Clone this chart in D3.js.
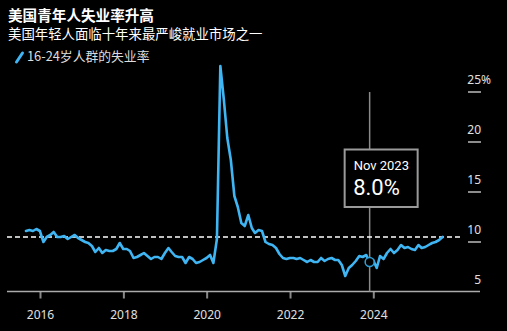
<!DOCTYPE html>
<html><head><meta charset="utf-8">
<script src="https://cdn.jsdelivr.net/npm/d3@7"></script>
<style>
html,body{margin:0;padding:0;background:#000;}
svg{display:block;}
</style></head>
<body>
<svg id="chart" width="507" height="331"></svg>
<script>
// ---- data ----
const title = "美国青年人失业率升高";
const subtitle = "美国年轻人面临十年来最严峻就业市场之一";
const seriesName = "16-24岁人群的失业率";
const firstMonth = [2015, 8]; // Aug 2015, monthly data
const rate2015 = [11.1, 11.2, 11.1, 11.3, 11.1];
const rate2016 = [10.0, 10.5, 10.7, 11.0, 10.5, 10.5, 10.6, 10.3, 10.5, 10.7, 10.4, 10.2];
const rate2017 = [10.0, 9.9, 9.6, 9.0, 9.4, 8.9, 9.2, 9.1, 9.1, 9.3, 9.9, 9.3];
const rate2018 = [9.3, 9.1, 8.4, 8.5, 8.7, 8.9, 8.6, 8.3, 8.5, 8.5, 8.3, 8.9];
const rate2019 = [9.4, 9.0, 8.6, 8.5, 8.5, 7.9, 8.5, 8.3, 7.9, 8.0, 8.2, 8.4];
const rate2020 = [8.7, 7.9, 10.3, 27.6, 24.2, 20.4, 18.2, 14.6, 13.5, 11.9, 11.6, 12.7];
const rate2021 = [11.4, 10.9, 11.2, 11.1, 10.0, 9.8, 9.7, 9.4, 8.8, 8.4, 8.3, 8.4];
const rate2022 = [8.4, 8.3, 8.4, 8.2, 8.0, 8.2, 8.0, 8.0, 8.4, 8.1, 8.3, 8.4];
const rate2023 = [8.2, 8.2, 7.7, 6.6, 7.4, 7.7, 8.1, 8.6, 8.5, 8.7, 8.0, 8.2];
const rate2024 = [7.4, 8.6, 8.3, 8.9, 9.3, 8.9, 9.2, 9.7, 9.4, 9.5, 9.3, 9.2];
const rate2025 = [9.7, 9.4, 9.5, 9.7, 9.9, 10.0, 10.2, 10.5];
const xTickYears = [2016, 2018, 2020, 2022, 2024];
const yTicks = [5, 10, 15, 20, 25];
const annotation = { year: 2023, month: 11, label: "Nov 2023" };
const referenceValue = 10.5;

// ---- build series ----
const allRates = [].concat(rate2015, rate2016, rate2017, rate2018, rate2019, rate2020,
  rate2021, rate2022, rate2023, rate2024, rate2025);
// monthly observation placed at end of its month
const data = allRates.map((v, i) => {
  const m = firstMonth[1] - 1 + i;
  return { date: new Date(firstMonth[0], m + 1, 0), value: v };
});

const svg = d3.select("#chart");
const W = 507, H = 331;
svg.append("rect").attr("width", W).attr("height", H).attr("fill", "#000");

const x = d3.scaleTime()
  .domain([new Date(2016, 0, 1), new Date(2024, 0, 1)])
  .range([40, 373.3]);
const y = d3.scaleLinear().domain([5, 25]).range([292, 92]);

const lineColor = "#3fb5f3";
const font = "'Noto Sans', 'Noto Sans CJK SC', sans-serif";
const cjk = "'Noto Sans CJK SC', 'Noto Sans', sans-serif";
const annFont = "Roboto, 'Noto Sans', sans-serif";

// titles
svg.append("text").attr("x", 8).attr("y", 21)
  .attr("fill", "#fff").attr("font-family", cjk).attr("font-weight", "bold")
  .attr("font-size", 14.6).text(title);
svg.append("text").attr("x", 8).attr("y", 39)
  .attr("fill", "#fff").attr("font-family", cjk)
  .attr("font-size", 13.4).text(subtitle);
// legend
svg.append("line").attr("x1", 16.5).attr("y1", 62).attr("x2", 22.5).attr("y2", 53)
  .attr("stroke", lineColor).attr("stroke-width", 3).attr("stroke-linecap", "round");
svg.append("text").attr("x", 27).attr("y", 61)
  .attr("fill", "#ddd").attr("font-family", cjk)
  .attr("font-size", 12.8).text(seriesName);

// y axis (right side: short tick marks with labels above)
const yAxisX0 = 468, yAxisX1 = 481;
const yg = svg.append("g");
yTicks.forEach(t => {
  if (t !== 5) {
    yg.append("line").attr("x1", yAxisX0).attr("x2", yAxisX1)
      .attr("y1", y(t)).attr("y2", y(t)).attr("stroke", "#bbb").attr("stroke-width", 1.5);
  }
  yg.append("text").attr("x", yAxisX1).attr("y", y(t) - 8.5)
    .attr("text-anchor", "end").attr("fill", "#e0e0e0")
    .attr("font-family", font).attr("font-size", 12).text(t);
  if (t === d3.max(yTicks)) {
    yg.append("text").attr("x", yAxisX1).attr("y", y(t) - 8.5)
      .attr("fill", "#e0e0e0").attr("font-family", font).attr("font-size", 12).text("%");
  }
});

// x axis
const xAxis = d3.axisBottom(x)
  .tickValues(xTickYears.map(yr => new Date(yr, 0, 1)))
  .tickFormat(d3.timeFormat("%Y"))
  .tickSize(7).tickPadding(12);
const xg = svg.append("g").attr("transform", `translate(0,${y(5) - 0.5})`).call(xAxis);
xg.select(".domain").remove();
xg.selectAll(".tick line").attr("stroke", "#888").attr("stroke-width", 2);
xg.selectAll(".tick text").attr("fill", "#e0e0e0").attr("font-family", font).attr("font-size", 12);
svg.append("line").attr("x1", 7).attr("x2", 480).attr("y1", y(5) - 0.5).attr("y2", y(5) - 0.5)
  .attr("stroke", "#aaa").attr("stroke-width", 1.5);

// annotation vertical line
const annDate = new Date(annotation.year, annotation.month, 0);
const annPoint = data.find(d => d.date.getTime() === annDate.getTime());
const ax = x(annDate);
svg.append("line").attr("x1", ax).attr("x2", ax).attr("y1", y(25)).attr("y2", y(5) - 0.5)
  .attr("stroke", "#8a8a8a").attr("stroke-width", 1.5);

// reference dashed line
svg.append("line").attr("x1", 7).attr("x2", 461)
  .attr("y1", y(referenceValue)).attr("y2", y(referenceValue))
  .attr("stroke", "#fff").attr("stroke-width", 1.5).attr("stroke-dasharray", "5,3");

// series line
const line = d3.line().x(d => x(d.date)).y(d => y(d.value)).curve(d3.curveLinear);
svg.append("path").datum(data).attr("d", line)
  .attr("fill", "none").attr("stroke", lineColor).attr("stroke-width", 2.6)
  .attr("stroke-linejoin", "round").attr("stroke-linecap", "round");

// marker
svg.append("circle").attr("cx", ax).attr("cy", y(annPoint.value)).attr("r", 4.5)
  .attr("fill", "#000").attr("stroke", "#2f9fd8").attr("stroke-width", 1.5);

// annotation box
const boxX = ax - 25, boxY = 149.5, boxW = 73, boxH = 57.5;
svg.append("rect").attr("x", boxX).attr("y", boxY).attr("width", boxW).attr("height", boxH)
  .attr("fill", "#000").attr("stroke", "#9a9a9a").attr("stroke-width", 2);
svg.append("text").attr("x", boxX + 9).attr("y", boxY + 20.5)
  .attr("fill", "#fff").attr("font-family", annFont).attr("font-size", 13)
  .text(annotation.label);
svg.append("text").attr("x", boxX + 8.5).attr("y", boxY + 45.5)
  .attr("fill", "#fff").attr("font-family", annFont).attr("font-size", 22)
  .text(annPoint.value.toFixed(1) + "%");
</script>
</body></html>
